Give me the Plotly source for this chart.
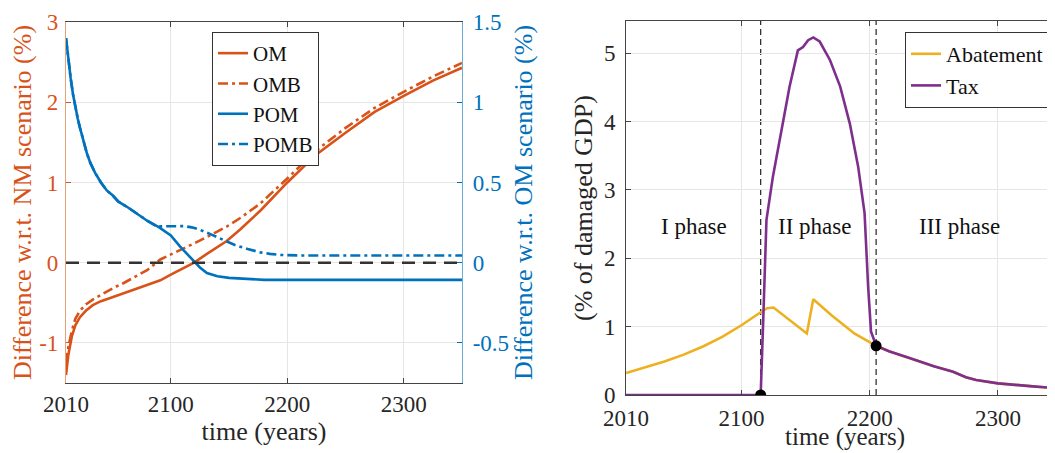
import plotly.graph_objects as go

# ---------------- data ----------------
# Left panel: difference w.r.t. NM scenario (%)  (left axis)
om_years = [2010, 2012, 2015, 2018, 2022, 2027, 2033, 2040, 2048, 2060, 2070, 2080, 2091,
            2100, 2110, 2120, 2130, 2148, 2160, 2177, 2200, 2225, 2250, 2275, 2300, 2325, 2350]
om_vals = [-1.40, -1.15, -0.92, -0.78, -0.68, -0.60, -0.53, -0.48, -0.44, -0.38, -0.33, -0.28, -0.22,
           -0.15, -0.07, 0.00, 0.10, 0.27, 0.42, 0.65, 1.00, 1.35, 1.62, 1.88, 2.08, 2.27, 2.43]

omb_years = [2010, 2012, 2015, 2018, 2022, 2027, 2033, 2040, 2050, 2060, 2070, 2080, 2091,
             2100, 2110, 2120, 2135, 2148, 2160, 2177, 2200, 2225, 2250, 2275, 2300, 2325, 2350]
omb_vals = [-1.25, -1.05, -0.85, -0.70, -0.60, -0.52, -0.46, -0.40, -0.32, -0.25, -0.17, -0.09, 0.04,
            0.10, 0.17, 0.24, 0.35, 0.45, 0.56, 0.74, 1.05, 1.40, 1.68, 1.93, 2.13, 2.32, 2.49]

# Left panel: difference w.r.t. OM scenario (%)  (right axis)
pom_years = [2010, 2012, 2014, 2016, 2018, 2020, 2022, 2025, 2028, 2031, 2035, 2040, 2045, 2050,
             2055, 2062, 2070, 2080, 2090, 2100, 2108, 2115, 2120, 2125, 2131, 2140, 2150, 2165,
             2180, 2350]
pom_vals = [1.40, 1.26, 1.15, 1.05, 0.97, 0.90, 0.84, 0.76, 0.68, 0.62, 0.56, 0.50, 0.45, 0.42,
            0.38, 0.35, 0.31, 0.26, 0.22, 0.17, 0.10, 0.045, 0.01, -0.03, -0.065, -0.085, -0.095, -0.103,
            -0.107, -0.107]

pomb_years = [2010, 2012, 2014, 2016, 2018, 2020, 2022, 2025, 2028, 2031, 2035, 2040, 2045, 2050,
              2055, 2062, 2070, 2080, 2088, 2100, 2111, 2118, 2125, 2135, 2145, 2155, 2166, 2177,
              2185, 2195, 2210, 2350]
pomb_vals = [1.40, 1.26, 1.15, 1.05, 0.97, 0.90, 0.84, 0.76, 0.68, 0.62, 0.56, 0.50, 0.45, 0.42,
             0.38, 0.35, 0.31, 0.26, 0.226, 0.228, 0.228, 0.22, 0.205, 0.175, 0.142, 0.11, 0.085, 0.064,
             0.055, 0.048, 0.045, 0.045]

# Right panel: % of damaged GDP
abat_years = [2010, 2025, 2040, 2055, 2070, 2085, 2100, 2115, 2120, 2125, 2151, 2156, 2170, 2188,
              2205, 2215, 2231, 2250, 2265, 2275, 2283, 2300, 2325, 2345]
abat_vals = [0.32, 0.40, 0.49, 0.59, 0.71, 0.85, 1.02, 1.21, 1.27, 1.28, 0.90, 1.40, 1.17, 0.90,
             0.72, 0.64, 0.54, 0.42, 0.34, 0.26, 0.22, 0.17, 0.13, 0.10]

tax_years = [2010, 2115, 2117, 2119.5, 2124.5, 2131, 2137.5, 2144, 2148, 2152, 2156, 2161, 2169,
             2177, 2184.5, 2191, 2196, 2198.8, 2201, 2205, 2215, 2231, 2250, 2265, 2275, 2283,
             2300, 2325, 2345]
tax_vals = [0, 0, 1.1, 2.56, 3.19, 3.87, 4.51, 5.04, 5.09, 5.19, 5.23, 5.17, 4.9,
            4.51, 3.97, 3.34, 2.66, 1.58, 0.93, 0.72, 0.64, 0.54, 0.42, 0.34, 0.26, 0.22,
            0.17, 0.13, 0.10]

phase_bounds = [2115, 2205]
phase_dot_vals = [0, 0.72]
phase_labels = ["I phase", "II phase", "III phase"]
phase_label_years = [2063, 2157, 2270]
phase_label_level = 2.46

x_ticks = [2010, 2100, 2200, 2300]
left_ticks = [-1, 0, 1, 2, 3]
left_ticktext = ["-1", "0", "1", "2", "3"]
right_ticks = [-0.5, 0, 0.5, 1, 1.5]
right_ticktext = ["-0.5", "0", "0.5", "1", "1.5"]
gdp_ticks = [0, 1, 2, 3, 4, 5]

# ---------------- style ----------------
ORANGE = "#D95319"
BLUE = "#0072BD"
YELLOW = "#EDB120"
PURPLE = "#7E2F8E"
FONT = "Liberation Serif"
GRID = "#e6e6e6"
W, H = 1055, 453
OFF = 8  # the page body's default margin shifts the figure by 8px


def px_x(p):
    return (p - OFF) / W


def px_y(p):
    return 1 - (p - OFF) / H


fig = go.Figure()

fig.add_trace(go.Scatter(x=om_years, y=om_vals, name="OM", mode="lines",
                         line=dict(color=ORANGE, width=2.6), xaxis="x", yaxis="y", legend="legend"))
fig.add_trace(go.Scatter(x=omb_years, y=omb_vals, name="OMB", mode="lines",
                         line=dict(color=ORANGE, width=2.6, dash="10px,4px,3px,4px"),
                         xaxis="x", yaxis="y", legend="legend"))
fig.add_trace(go.Scatter(x=pom_years, y=pom_vals, name="POM", mode="lines",
                         line=dict(color=BLUE, width=2.6), xaxis="x", yaxis="y2", legend="legend"))
fig.add_trace(go.Scatter(x=pomb_years, y=pomb_vals, name="POMB", mode="lines",
                         line=dict(color=BLUE, width=2.6, dash="10px,4px,3px,4px"),
                         xaxis="x", yaxis="y2", legend="legend"))

fig.add_trace(go.Scatter(x=abat_years, y=abat_vals, name="Abatement", mode="lines",
                         line=dict(color=YELLOW, width=2.6), xaxis="x2", yaxis="y3", legend="legend2"))
fig.add_trace(go.Scatter(x=tax_years, y=tax_vals, name="Tax", mode="lines",
                         line=dict(color=PURPLE, width=2.6), xaxis="x2", yaxis="y3", legend="legend2"))
fig.add_trace(go.Scatter(x=phase_bounds, y=phase_dot_vals, mode="markers", showlegend=False,
                         marker=dict(color="black", size=11), xaxis="x2", yaxis="y3"))

# zero reference line (left panel)
fig.add_shape(type="line", xref="x domain", x0=0, x1=1, yref="y", y0=0, y1=0,
              line=dict(color="#333333", width=2.5, dash="13px,8px"))
# phase boundaries (right panel)
for b in phase_bounds:
    fig.add_shape(type="line", xref="x2", x0=b, x1=b, yref="y3 domain", y0=0, y1=1,
                  line=dict(color="#222222", width=1.2, dash="6px,4px"), layer="below")

for lab, xv in zip(phase_labels, phase_label_years):
    fig.add_annotation(x=xv, y=phase_label_level, xref="x2", yref="y3", text=lab, showarrow=False,
                       font=dict(family=FONT, size=23, color="#111111"))

# x-axis title of the right panel (placed so that it stays inside the window)
fig.add_annotation(x=0.5, xref="x2 domain", y=px_y(452), yref="paper", yanchor="bottom",
                   text="time (years)", showarrow=False, borderpad=0,
                   font=dict(family=FONT, size=25, color="#262626"))

tickfont = dict(family=FONT, size=23, color="#262626")
titlefont = dict(family=FONT, size=26, color="#262626")

fig.update_layout(
    template="none",
    width=W, height=H,
    margin=dict(l=0, r=0, t=0, b=0, autoexpand=False),
    paper_bgcolor="white", plot_bgcolor="white",
    font=dict(family=FONT, size=22, color="#262626"),
    xaxis=dict(domain=[px_x(66), px_x(462)], anchor="y", range=[2010, 2350], automargin=False,
               tickvals=x_ticks, ticks="inside", ticklen=5, tickcolor="#444",
               showline=True, linecolor="#444", linewidth=1, mirror="ticks",
               showgrid=True, gridcolor=GRID, zeroline=False, tickfont=tickfont,
               ticklabelstandoff=0,
               title=dict(text="time (years)", font=titlefont, standoff=0)),
    yaxis=dict(domain=[px_y(383), px_y(22)], anchor="x", range=[-1.5, 3], automargin=False,
               tickvals=left_ticks, ticktext=left_ticktext, ticks="inside", ticklen=5,
               tickcolor=ORANGE, showline=True, linecolor="#E8A07A", linewidth=1.2,
               showgrid=True, gridcolor=GRID, zeroline=False,
               tickfont=dict(family=FONT, size=23, color=ORANGE), ticklabelstandoff=2,
               title=dict(text="Difference w.r.t. NM scenario (%)",
                          font=dict(family=FONT, size=26, color=ORANGE), standoff=0)),
    yaxis2=dict(overlaying="y", side="right", anchor="x", range=[-0.75, 1.5], automargin=False,
                tickvals=right_ticks, ticktext=right_ticktext, ticks="inside", ticklen=5,
                tickcolor=BLUE, showline=True, linecolor="#6AAED6", linewidth=1.2,
                showgrid=False, zeroline=False,
                tickfont=dict(family=FONT, size=23, color=BLUE), ticklabelstandoff=5,
                title=dict(text="Difference w.r.t. OM scenario (%)",
                           font=dict(family=FONT, size=26, color=BLUE), standoff=0)),
    xaxis2=dict(domain=[px_x(626), 1.0], anchor="y3", range=[2010, 2350.7], automargin=False,
                tickvals=x_ticks, ticks="inside", ticklen=5, tickcolor="#444",
                showline=True, linecolor="#444", linewidth=1, mirror="ticks",
                showgrid=True, gridcolor=GRID, zeroline=False, tickfont=tickfont,
                ticklabelstandoff=2),
    yaxis3=dict(domain=[px_y(395), px_y(21)], anchor="x2", range=[0, 5.47], automargin=False,
                tickvals=gdp_ticks, ticks="inside", ticklen=5, tickcolor="#444",
                showline=True, linecolor="#444", linewidth=1,
                showgrid=True, gridcolor=GRID, zeroline=False, tickfont=tickfont,
                ticklabelstandoff=5,
                title=dict(text="(% of damaged GDP)", font=titlefont, standoff=3)),
    legend=dict(x=px_x(212), y=px_y(32), xanchor="left", yanchor="top",
                bgcolor="white", bordercolor="#333", borderwidth=1,
                font=dict(family=FONT, size=21, color="#111"), tracegroupgap=0),
    legend2=dict(x=px_x(1049), y=px_y(32), xanchor="right", yanchor="top",
                 bgcolor="white", bordercolor="#333", borderwidth=1,
                 font=dict(family=FONT, size=22, color="#111"), tracegroupgap=0),
    showlegend=True,
)

fig.write_html("out.html")
